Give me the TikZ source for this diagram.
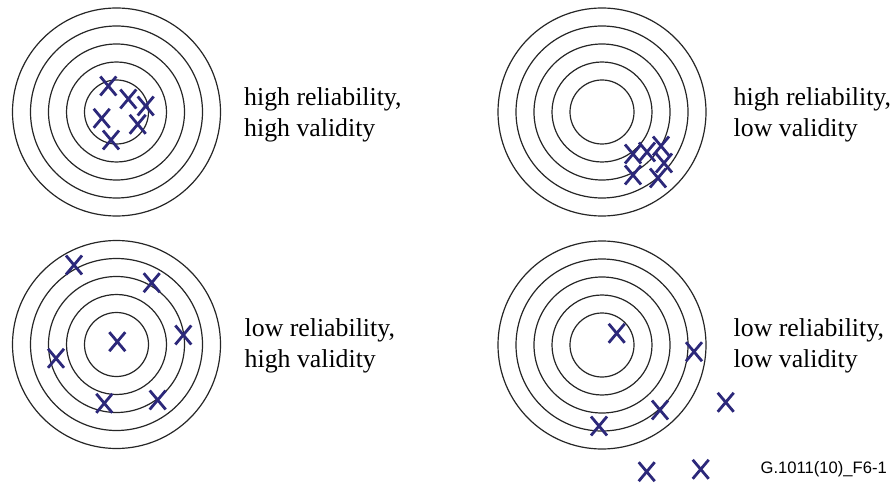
\documentclass[tikz,border=0pt]{standalone}
\usepackage{fontspec}
\setmainfont{Liberation Serif}
\newfontfamily\labelsans{Liberation Sans}
\definecolor{xblue}{RGB}{44,40,122}
\tikzset{
  ring/.style={draw=black!85, line width=1.2pt},
  xline/.style={draw=xblue, line width=2.8pt},
  xm/.pic={\draw[xline] (-8,-9.5)--(8,9.5) (-8,9.5)--(8,-9.5);},
  caption/.style={anchor=base west, inner sep=0pt, font=\fontsize{25.8}{31}\selectfont},
  figid/.style={anchor=base east, inner sep=0pt, font=\labelsans\fontsize{16.6}{19}\selectfont}
}
\begin{document}
\begin{tikzpicture}[x=1pt,y=-1pt]
\useasboundingbox (0,0) rectangle (891,486);
% targets
\coordinate (tl) at (116.5,112);
\coordinate (tr) at (602,112);
\coordinate (bl) at (116.5,344.5);
\coordinate (br) at (602,345);
\foreach \c in {tl,tr,bl,br}{
  \foreach \r in {104,86,68,50,32}{
    \draw[ring] (\c) circle[radius=\r];
  }
}
% top-left: high reliability, high validity
\foreach \p in {(108.3,86),(128.3,99),(145.7,106),(101.7,118.3),(137.7,124.3),(111,140)}
  \pic at \p {xm};
% top-right: high reliability, low validity
\foreach \p in {(633,154),(647,152),(661,146),(633,175),(658,178),(664,163)}
  \pic at \p {xm};
% bottom-left: low reliability, high validity
\foreach \p in {(74,265),(151.7,282.7),(183.3,335),(117.3,341.7),(56,358.3),(104.3,403.3),(157.7,400)}
  \pic at \p {xm};
% bottom-right: low reliability, low validity
\foreach \p in {(616.7,333.3),(694,351.7),(725.7,402.3),(660,410),(599,426),(646.7,471.7),(700.7,469.3)}
  \pic at \p {xm};
% captions
\node[caption] (t1a) at (244,105.7) {high reliability,};
\node[caption] (t1b) at (244,136.7) {high validity};
\node[caption] (t2a) at (733.5,105.7) {high reliability,};
\node[caption] (t2b) at (733.5,136.7) {low validity};
\node[caption] (t3a) at (244.5,336.7) {low reliability,};
\node[caption] (t3b) at (244.5,367.7) {high validity};
\node[caption] (t4a) at (733.5,336.7) {low reliability,};
\node[caption] (t4b) at (733.5,367.7) {low validity};
\node[figid] (fid) at (887,473.5) {G.1011(10)\_F6-1};
\end{tikzpicture}
\end{document}
